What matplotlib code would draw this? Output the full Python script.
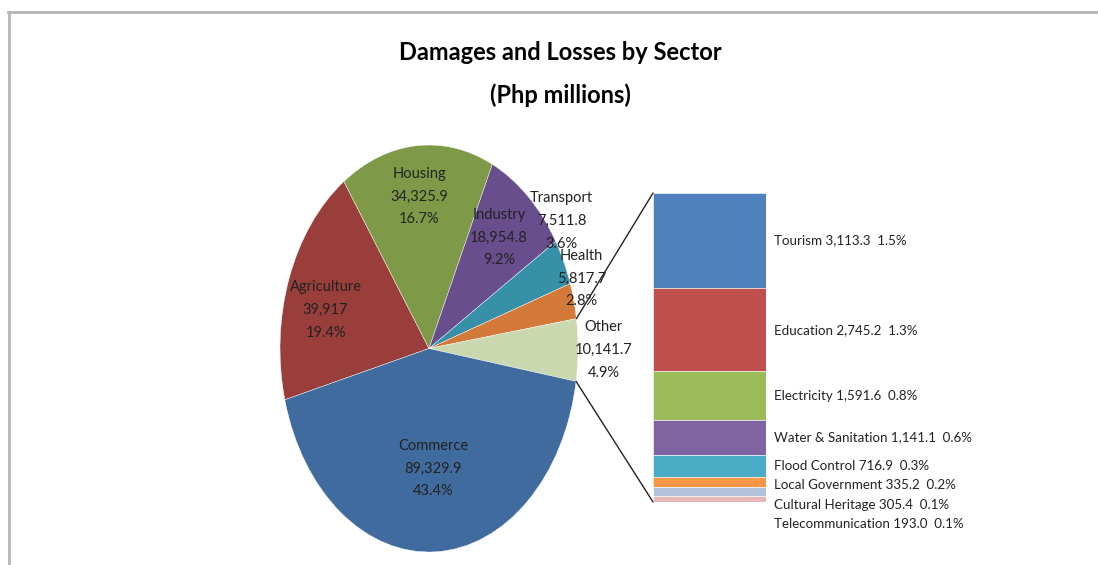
import numpy as np
import matplotlib
matplotlib.use("Agg")
import matplotlib.pyplot as plt
from matplotlib.patches import ConnectionPatch
from matplotlib.lines import Line2D

plt.rcParams['font.family'] = ['Lato', 'DejaVu Sans']

# main pie data (Php millions)
sectors = ["Agriculture", "Housing", "Industry", "Transport", "Health", "Other", "Commerce"]
values = [39917, 34325.9, 18954.8, 7511.8, 5817.7, 10141.7, 89329.9]
value_text = ["39,917", "34,325.9", "18,954.8", "7,511.8", "5,817.7", "10,141.7", "89,329.9"]
pct_text = ["19.4%", "16.7%", "9.2%", "3.6%", "2.8%", "4.9%", "43.4%"]

# breakdown of "Other"
other_names = ["Tourism", "Education", "Electricity", "Water & Sanitation",
               "Flood Control", "Local Government", "Cultural Heritage", "Telecommunication"]
other_values = [3113.3, 2745.2, 1591.6, 1141.1, 716.9, 335.2, 305.4, 193.0]
other_value_text = ["3,113.3", "2,745.2", "1,591.6", "1,141.1", "716.9", "335.2", "305.4", "193.0"]
other_pct_text = ["1.5%", "1.3%", "0.8%", "0.6%", "0.3%", "0.2%", "0.1%", "0.1%"]

pie_colors = ["#9A3E3B", "#7E9A48", "#684E8C", "#3690A8", "#D3793A", "#C9D8AE", "#3F6B9F"]
bar_colors = ["#4F81BD", "#C0504D", "#9BBB59", "#8064A2", "#4BACC6", "#F79646", "#B4C3DC", "#E6B9B8"]

# label placement (radius fraction, angle nudge in degrees)
label_pos = [(0.72, 5), (0.75, 0), (0.72, 1), (1.09, 10), (1.08, 5), (1.17, 0), (0.59, 0)]

fig = plt.figure(figsize=(10.98, 5.65), dpi=100)

# frame lines like the original screenshot
fig.add_artist(Line2D([8 / 1098, 1], [1 - 12 / 565, 1 - 12 / 565], color="#B4B4B4", lw=2))
fig.add_artist(Line2D([9 / 1098, 9 / 1098], [0, 1 - 12 / 565], color="#B4B4B4", lw=2))

fig.text(560 / 1098, 1 - 52 / 565, "Damages and Losses by Sector", ha="center", va="center",
         fontsize=17, fontweight="bold")
fig.text(560 / 1098, 1 - 95 / 565, "(Php millions)", ha="center", va="center",
         fontsize=17, fontweight="bold")

# pie (drawn as circle, stretched into an ellipse by the axes box)
ax = fig.add_axes([280 / 1098, 13 / 565, 298 / 1098, 407 / 565])
wedges, _ = ax.pie(values, colors=pie_colors, startangle=194.6, counterclock=False,
                   wedgeprops=dict(linewidth=0.3, edgecolor="white"))
ax.set_aspect("auto")
ax.set_xlim(-1, 1)
ax.set_ylim(-1, 1)

for i, w in enumerate(wedges):
    r, nudge = label_pos[i]
    mid = np.deg2rad((w.theta1 + w.theta2) / 2 + nudge)
    ax.text(r * np.cos(mid), r * np.sin(mid),
            sectors[i] + "\n" + value_text[i] + "\n" + pct_text[i],
            ha="center", va="center", fontsize=10.5, linespacing=1.8, color="#222222")

# stacked bar for "Other"
total_other = sum(other_values)
axb = fig.add_axes([653 / 1098, 63 / 565, 113 / 1098, 309 / 565])
tops = total_other - np.concatenate([[0], np.cumsum(other_values)[:-1]])
for i, v in enumerate(other_values):
    axb.bar(0.5, v, width=1, bottom=tops[i] - v, color=bar_colors[i],
            edgecolor="white", linewidth=0.4)
axb.set_xlim(0, 1)
axb.set_ylim(0, total_other)
axb.axis("off")

# bar labels, spread so they do not overlap
min_gap = 19.5 / 309 * total_other
prev = None
for i, v in enumerate(other_values):
    y = tops[i] - v / 2
    if prev is not None and prev - y < min_gap:
        y = prev - min_gap
    prev = y
    axb.text(1.07, y, other_names[i] + " " + other_value_text[i] + "  " + other_pct_text[i],
             ha="left", va="center", fontsize=9.6, color="#222222", transform=axb.transData,
             clip_on=False)

# connector lines from the "Other" slice to the bar
w_other = wedges[sectors.index("Other")]
for ang, yb in [(w_other.theta2, total_other), (w_other.theta1, 0)]:
    a = np.deg2rad(ang)
    con = ConnectionPatch(xyA=(np.cos(a), np.sin(a)), coordsA=ax.transData,
                          xyB=(0, yb), coordsB=axb.transData, color="#222222", lw=1)
    fig.add_artist(con)

fig.savefig("out.png", dpi=100)
